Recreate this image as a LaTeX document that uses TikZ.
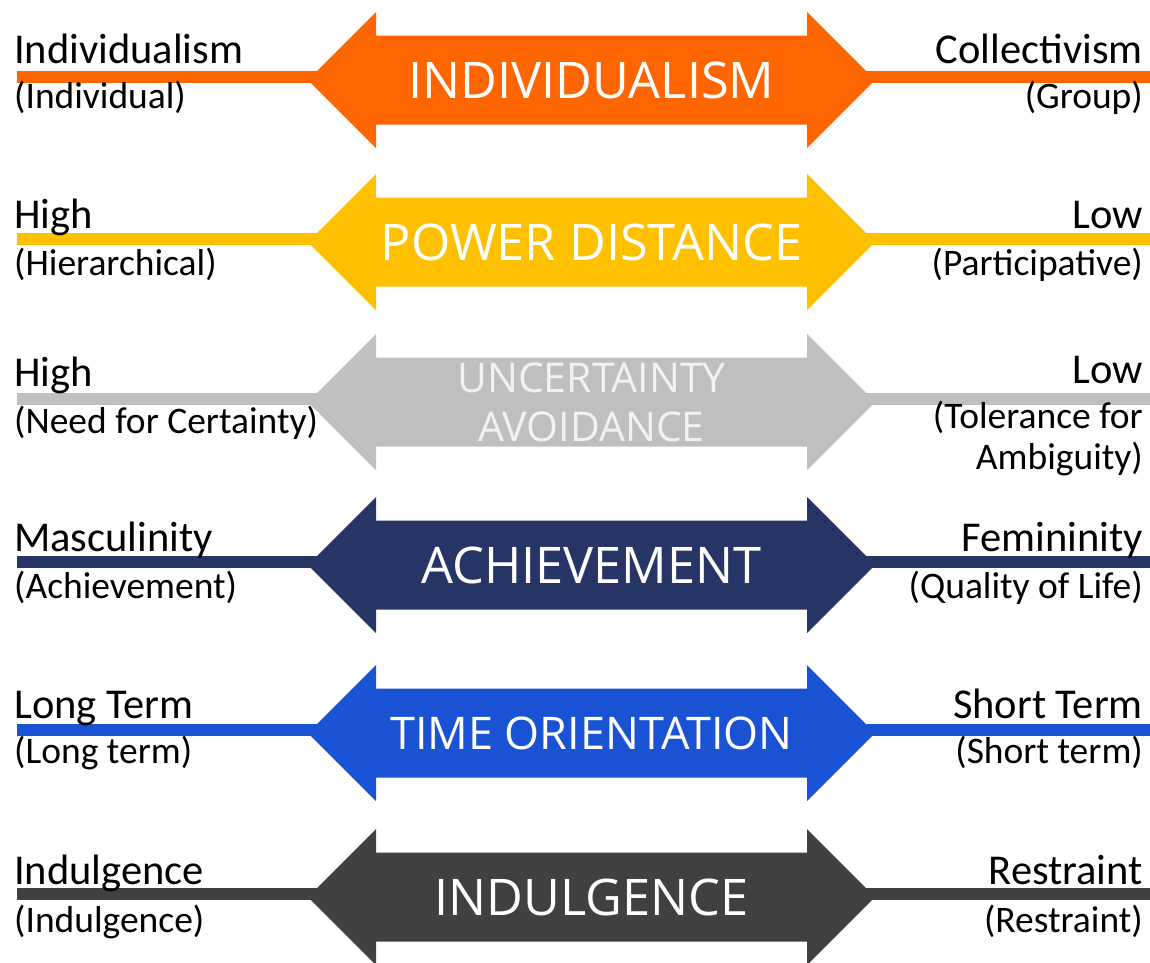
\documentclass[tikz,border=0pt]{standalone}
\usepackage{fontspec}
\setmainfont{Carlito}
\newfontfamily\titlefont{Open Sans}
\usetikzlibrary{positioning}

\definecolor{indorange}{RGB}{255,102,0}
\definecolor{powyellow}{RGB}{255,192,0}
\definecolor{uncgray}{RGB}{191,191,191}
\definecolor{achnavy}{RGB}{38,53,102}
\definecolor{timeblue}{RGB}{26,82,212}
\definecolor{indgray}{RGB}{64,64,64}

\begin{document}
\begin{tikzpicture}[x=1pt,y=-1pt,
    mainlbl/.style={inner sep=0pt,font=\fontsize{42.5}{50}\selectfont},
    sublbl/.style={inner sep=0pt,font=\fontsize{37.5}{41}\selectfont},
    titlelbl/.style={inner sep=0pt,text=white,font=\titlefont\fontsize{50.5}{56}\selectfont}]
    \useasboundingbox (0,0) rectangle (1150,962);
    % bars and double arrows
    \foreach \c/\col in {80/indorange, 242/powyellow, 402/uncgray, 565/achnavy, 733/timeblue, 897/indgray} {
        \coordinate (bar-l-\c) at (17,\c-3);
        \coordinate (bar-r-\c) at (1150,\c-3);
        \draw[line width=11.5pt,\col] (bar-l-\c) -- (bar-r-\c);
        \fill[\col] (308,\c) -- (376,\c-68) -- (376,\c-44.5) -- (807,\c-44.5) -- (807,\c-68)
            -- (875,\c) -- (807,\c+68) -- (807,\c+44.5) -- (376,\c+44.5) -- (376,\c+68) -- cycle;
    }
    % titles
    \node[titlelbl,anchor=base] (ind-title) at (591.5,98) {INDIVIDUALISM};
    \node[titlelbl,anchor=base] (pow-title) at (591.5,260) {POWER DISTANCE};
    \node[inner sep=0pt,anchor=base,align=center,text=white!95!black,
          font=\titlefont\fontsize{41}{49}\selectfont] (unc-title) at (591.5,441) {UNCERTAINTY\\AVOIDANCE};
    \node[titlelbl,anchor=base] (ach-title) at (591.5,583) {ACHIEVEMENT};
    \node[titlelbl,anchor=base,font=\titlefont\fontsize{45}{56}\selectfont] (time-title) at (591.5,749) {TIME ORIENTATION};
    \node[titlelbl,anchor=base] (indu-title) at (591.5,915) {INDULGENCE};
    % left labels
    \node[mainlbl,anchor=base west] (ind-left) at (14,63) {Individualism};
    \node[sublbl,anchor=base west] (ind-leftsub) at (14,108) {(Individual)};
    \node[mainlbl,anchor=base west] (pow-left) at (14,228) {High};
    \node[sublbl,anchor=base west] (pow-leftsub) at (14,275) {(Hierarchical)};
    \node[mainlbl,anchor=base west] (unc-left) at (14,386) {High};
    \node[sublbl,anchor=base west] (unc-leftsub) at (14,433) {(Need for Certainty)};
    \node[mainlbl,anchor=base west] (ach-left) at (14,551) {Masculinity};
    \node[sublbl,anchor=base west] (ach-leftsub) at (14,598) {(Achievement)};
    \node[mainlbl,anchor=base west] (time-left) at (14,718) {Long Term};
    \node[sublbl,anchor=base west] (time-leftsub) at (14,763) {(Long term)};
    \node[mainlbl,anchor=base west] (indu-left) at (14,884) {Indulgence};
    \node[sublbl,anchor=base west] (indu-leftsub) at (14,932) {(Indulgence)};
    % right labels
    \node[mainlbl,anchor=base east] (ind-right) at (1143,63) {Collectivism};
    \node[sublbl,anchor=base east] (ind-rightsub) at (1143,108) {(Group)};
    \node[mainlbl,anchor=base east] (pow-right) at (1143,228) {Low};
    \node[sublbl,anchor=base east] (pow-rightsub) at (1143,275) {(Participative)};
    \node[mainlbl,anchor=base east] (unc-right) at (1143,383) {Low};
    \node[sublbl,anchor=base east,align=right] (unc-rightsub) at (1143,469) {(Tolerance for\\Ambiguity)};
    \node[mainlbl,anchor=base east] (ach-right) at (1143,551) {Femininity};
    \node[sublbl,anchor=base east] (ach-rightsub) at (1143,598) {(Quality of Life)};
    \node[mainlbl,anchor=base east] (time-right) at (1143,718) {Short Term};
    \node[sublbl,anchor=base east] (time-rightsub) at (1143,763) {(Short term)};
    \node[mainlbl,anchor=base east] (indu-right) at (1143,884) {Restraint};
    \node[sublbl,anchor=base east] (indu-rightsub) at (1143,932) {(Restraint)};
\end{tikzpicture}
\end{document}
